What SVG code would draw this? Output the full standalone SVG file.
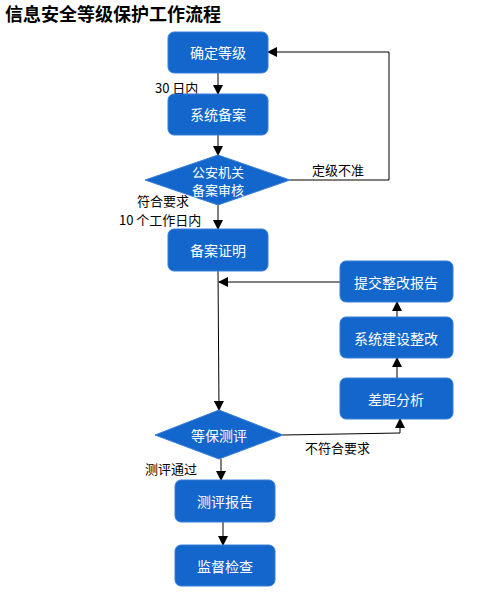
<svg xmlns="http://www.w3.org/2000/svg" width="501" height="592" viewBox="0 0 501 592">
<defs>
<marker id="ah" markerWidth="10" markerHeight="10" refX="9" refY="5" orient="auto" markerUnits="userSpaceOnUse">
<path d="M0,0 L10,5 L0,10 z" fill="#000"/>
</marker>
<style>
.box{fill:#1266cc;stroke:#3a7fd6;stroke-width:1}
.bt{fill:#fff;font-family:"Noto Sans CJK SC","Liberation Sans",sans-serif;font-size:14px;text-anchor:middle;dominant-baseline:central}
.dt{font-size:13px}
.lb{fill:#000;font-family:"Noto Sans CJK SC","Liberation Sans",sans-serif;font-size:13px;dominant-baseline:central}
.ln{fill:none;stroke:#000;stroke-width:1}
</style>
</defs>
<rect width="501" height="592" fill="#fff"/>
<text x="5" y="13" font-family="Noto Sans CJK SC, sans-serif" font-size="18" font-weight="bold" dominant-baseline="central" fill="#000">信息安全等级保护工作流程</text>
<g id="connectors">
<line class="ln" x1="218" y1="73" x2="218" y2="94" marker-end="url(#ah)"/>
<line class="ln" x1="218" y1="135" x2="218" y2="155" marker-end="url(#ah)"/>
<polyline class="ln" points="290,180 389,180 389,52 268,52" marker-end="url(#ah)"/>
<line class="ln" x1="218" y1="205" x2="218" y2="229" marker-end="url(#ah)"/>
<line class="ln" x1="218" y1="271" x2="219" y2="410" marker-end="url(#ah)"/>
<line class="ln" x1="340" y1="282" x2="219" y2="282" marker-end="url(#ah)"/>
<line class="ln" x1="397" y1="317" x2="397" y2="302" marker-end="url(#ah)"/>
<line class="ln" x1="397" y1="378" x2="397" y2="358" marker-end="url(#ah)"/>
<polyline class="ln" points="283,435 400,433 400,419" marker-end="url(#ah)"/>
<line class="ln" x1="221" y1="459" x2="221" y2="480" marker-end="url(#ah)"/>
<line class="ln" x1="223" y1="522" x2="223" y2="545" marker-end="url(#ah)"/>
<text class="lb" x="155" y="87">30 日内</text>
<text class="lb" x="312" y="169">定级不准</text>
<text class="lb" x="137" y="200">符合要求</text>
<text class="lb" x="119" y="219">10 个工作日内</text>
<text class="lb" x="305" y="447">不符合要求</text>
<text class="lb" x="145" y="468">测评通过</text>
</g>
<g id="n1"><rect class="box" x="168" y="32" width="100" height="41" rx="6"/><text class="bt" x="218" y="52">确定等级</text></g>
<g id="n2"><rect class="box" x="168" y="94" width="100" height="41" rx="6"/><text class="bt" x="218" y="114">系统备案</text></g>
<g id="n3"><polygon class="box" points="218,155 290,180 218,205 145,180"/><text class="bt dt" x="218" y="171">公安机关</text><text class="bt dt" x="218" y="189">备案审核</text></g>
<g id="n4"><rect class="box" x="168" y="229" width="100" height="42" rx="6"/><text class="bt" x="218" y="250">备案证明</text></g>
<g id="n5"><rect class="box" x="340" y="261" width="113" height="41" rx="6"/><text class="bt" x="396" y="282">提交整改报告</text></g>
<g id="n6"><rect class="box" x="340" y="317" width="113" height="41" rx="6"/><text class="bt" x="396" y="338">系统建设整改</text></g>
<g id="n7"><rect class="box" x="340" y="378" width="113" height="41" rx="6"/><text class="bt" x="396" y="399">差距分析</text></g>
<g id="n8"><polygon class="box" points="219,410 283,435 219,459 155,435"/><text class="bt" x="219" y="435">等保测评</text></g>
<g id="n9"><rect class="box" x="175" y="480" width="100" height="42" rx="6"/><text class="bt" x="225" y="501">测评报告</text></g>
<g id="n10"><rect class="box" x="175" y="545" width="100" height="41" rx="6"/><text class="bt" x="225" y="566">监督检查</text></g>
</svg>
